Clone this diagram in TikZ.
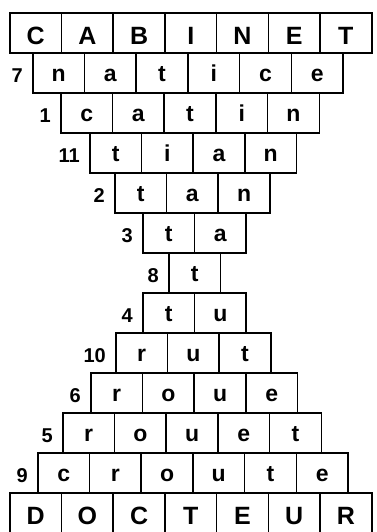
\documentclass[tikz,border=0pt]{standalone}
\usepackage{fontspec}
\setmainfont{Liberation Sans}
\usetikzlibrary{positioning}

\tikzset{
  cell/.style={draw, line width=1.6pt, minimum width=51.7pt, minimum height=40pt,
    inner sep=0pt, anchor=north west, text height=18pt, text depth=0pt,
    font=\bfseries\fontsize{23}{23}\selectfont},
  bigcell/.style={cell, text height=23pt, font=\bfseries\fontsize{25}{25}\selectfont},
  num/.style={inner sep=0pt, yshift=-3pt, font=\bfseries\fontsize{20}{20}\selectfont}
}

\begin{document}
\begin{tikzpicture}[x=1pt, y=-1pt]
  \useasboundingbox[fill=white] (0,0) rectangle (376,532);
  \clip (0,0) rectangle (376,532);
  % Mot de depart
  \foreach \ch [count=\i] in {C,A,B,I,N,E,T}
    \node[bigcell] (c-1-\i) at ({9+51.7*(\i-1)},12) {\ch};
  % Etapes
  \foreach \row/\lft/\num/\word in {2/32/7/{n,a,t,i,c,e}, 3/60/1/{c,a,t,i,n},
      4/89/11/{t,i,a,n}, 5/114/2/{t,a,n}, 6/142/3/{t,a}, 7/168/8/{t},
      8/142/4/{t,u}, 9/115/10/{r,u,t}, 10/90/6/{r,o,u,e},
      11/62/5/{r,o,u,e,t}, 12/37/9/{c,r,o,u,t,e}} {
    \foreach \ch [count=\i] in \word
      \node[cell] (c-\row-\i) at ({\lft+51.7*(\i-1)},{12+40*(\row-1)}) {\ch};
    \node[num, left=9pt of c-\row-1] (n-\row) {\num};
  }
  % Mot d'arrivee
  \foreach \ch [count=\i] in {D,O,C,T,E,U,R}
    \node[bigcell] (c-13-\i) at ({9+51.7*(\i-1)},492) {\ch};
\end{tikzpicture}
\end{document}
